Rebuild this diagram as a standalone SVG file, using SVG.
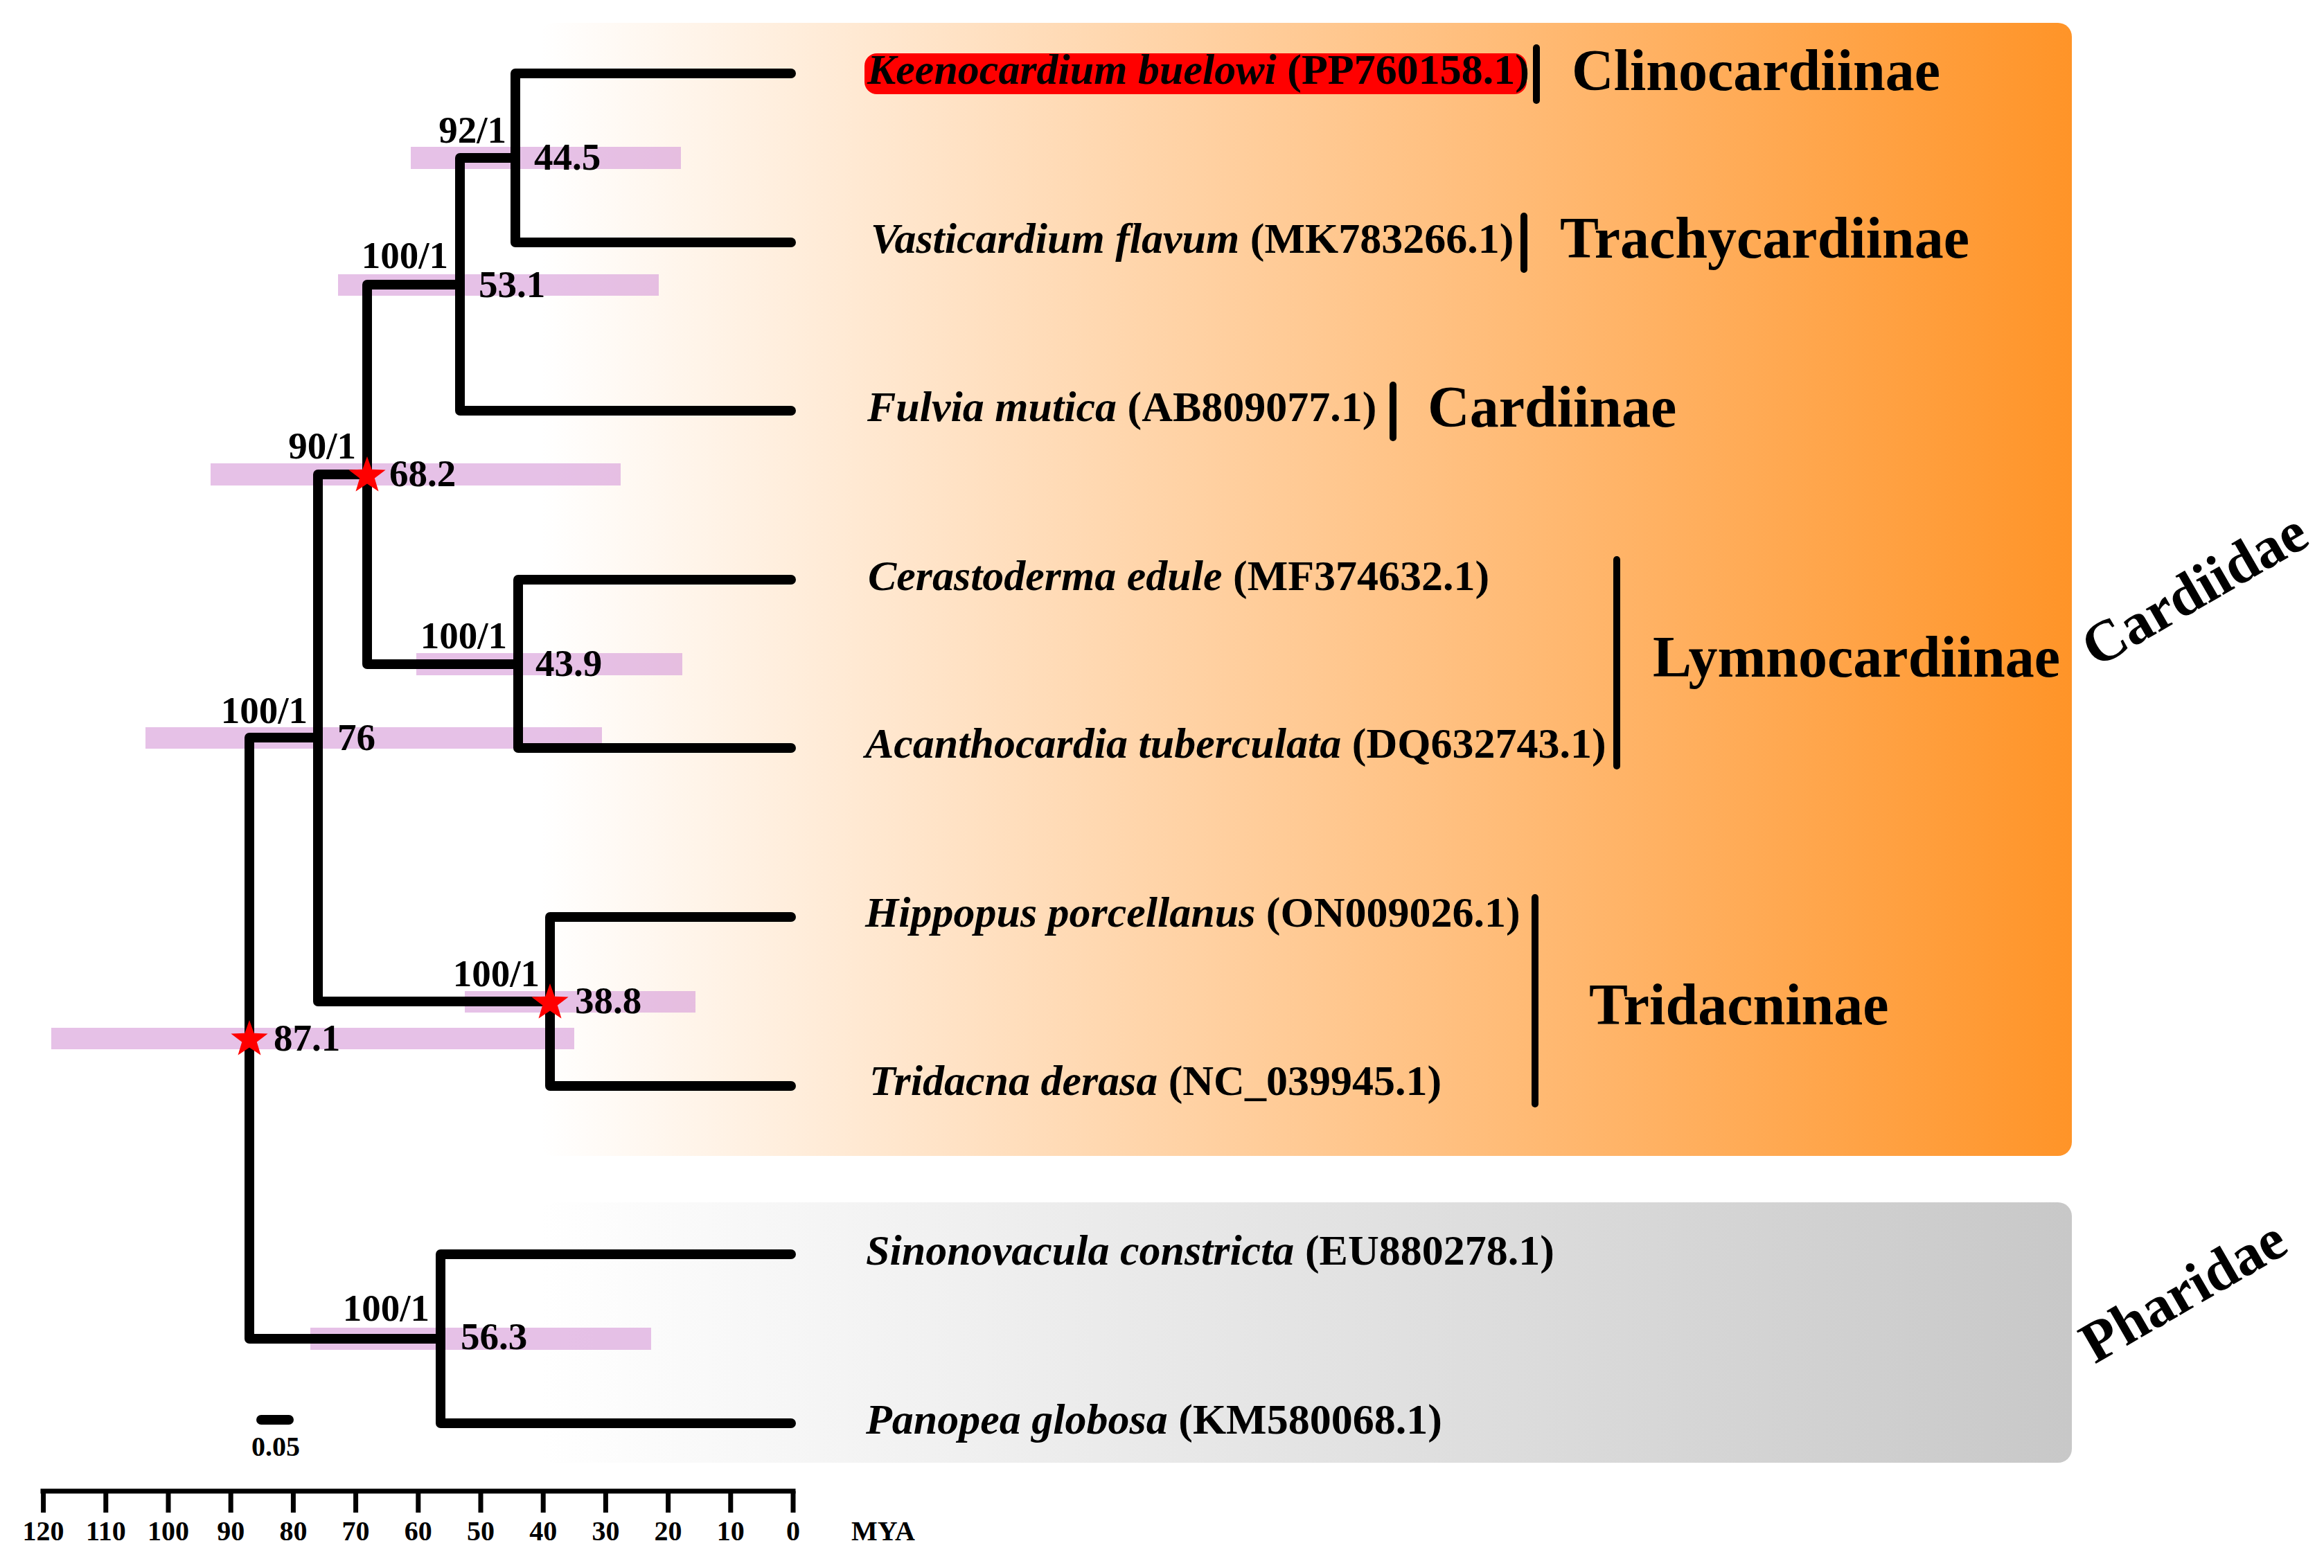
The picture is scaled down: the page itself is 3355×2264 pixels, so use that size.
<svg xmlns="http://www.w3.org/2000/svg" width="3355" height="2264" viewBox="0 0 3355 2264">
<style>
text{font-family:"Liberation Serif","Times New Roman",serif;font-weight:bold;fill:#000}
.br{fill:none;stroke:#000;stroke-width:14;stroke-linecap:round;stroke-linejoin:round}
.bar{fill:#D99FDA;fill-opacity:0.65}
.sup{font-size:55px;text-anchor:end}
.age{font-size:55px}
.tip{font-size:62px}
.sp{font-style:italic}
.sub{font-size:84px}
.fam{font-size:84px}
.tick{stroke:#000;stroke-width:7}
.ax{font-size:40px;text-anchor:middle}
.clb{stroke:#000;stroke-width:10;stroke-linecap:round}
.star{fill:#FF0000}
</style>
<defs>
<linearGradient id="gOr" x1="0" y1="0" x2="1" y2="0">
<stop offset="0" stop-color="#FFFFFF"/>
<stop offset="1" stop-color="#FF9428"/>
</linearGradient>
<linearGradient id="gGr" x1="0" y1="0" x2="1" y2="0">
<stop offset="0" stop-color="#FFFFFF"/>
<stop offset="1" stop-color="#C8C8C8"/>
</linearGradient>
<polygon id="star" points="0,-28 6.7,-9.2 26.6,-8.6 10.8,3.5 16.5,22.6 0,11.4 -16.5,22.6 -10.8,3.5 -26.6,-8.6 -6.7,-9.2"/>
</defs>
<rect width="3355" height="2264" fill="#FFFFFF"/>
<g id="family-boxes">
<rect id="box-cardiidae" x="780" y="33" width="2211" height="1636" rx="20" fill="url(#gOr)"/>
<rect id="box-pharidae" x="780" y="1736" width="2211" height="376" rx="20" fill="url(#gGr)"/>
</g>
<g id="hpd-bars">
<rect class="bar" x="593" y="212" width="390" height="32"/>
<rect class="bar" x="488" y="396" width="463" height="31"/>
<rect class="bar" x="304" y="669" width="592" height="32"/>
<rect class="bar" x="601" y="943" width="384" height="32"/>
<rect class="bar" x="210" y="1050" width="659" height="31"/>
<rect class="bar" x="671" y="1431" width="333" height="31"/>
<rect class="bar" x="74" y="1484" width="755" height="31"/>
<rect class="bar" x="448" y="1917" width="492" height="32"/>
</g>
<rect id="highlight" x="1248" y="77" width="956" height="59" rx="18" fill="#FF0000"/>
<g id="connectors">
<path class="br" d="M1142,106 H744 V350 H1142"/>
<path class="br" d="M744,228 H664 V593 H1142"/>
<path class="br" d="M664,411 H530 V959 H748"/>
<path class="br" d="M1142,837 H748 V1080 H1142"/>
<path class="br" d="M530,685 H459 V1446 H794"/>
<path class="br" d="M1142,1324 H794 V1568 H1142"/>
<path class="br" d="M459,1065 H360 V1933 H636"/>
<path class="br" d="M1142,1811 H636 V2055 H1142"/>
</g>
<g id="node-44.5"><text class="sup" x="731" y="206">92/1</text><text class="age" x="771" y="245">44.5</text></g>
<g id="node-53.1"><text class="sup" x="647" y="387">100/1</text><text class="age" x="691" y="429">53.1</text></g>
<g id="node-68.2"><use href="#star" class="star" x="530" y="687"/><text class="sup" x="514" y="662">90/1</text><text class="age" x="562" y="702">68.2</text></g>
<g id="node-43.9"><text class="sup" x="732" y="936">100/1</text><text class="age" x="773" y="976">43.9</text></g>
<g id="node-76"><text class="sup" x="444" y="1044">100/1</text><text class="age" x="487" y="1083">76</text></g>
<g id="node-38.8"><use href="#star" class="star" x="794" y="1448"/><text class="sup" x="779" y="1424">100/1</text><text class="age" x="830" y="1463">38.8</text></g>
<g id="node-87.1"><use href="#star" class="star" x="360" y="1501"/><text class="age" x="395" y="1517">87.1</text></g>
<g id="node-56.3"><text class="sup" x="620" y="1907">100/1</text><text class="age" x="665" y="1948">56.3</text></g>
<g id="tips">
<text class="tip" x="1252" y="121"><tspan class="sp">Keenocardium buelowi</tspan> (PP760158.1)</text>
<text class="tip" x="1257" y="365"><tspan class="sp">Vasticardium flavum</tspan> (MK783266.1)</text>
<text class="tip" x="1252" y="608"><tspan class="sp">Fulvia mutica</tspan> (AB809077.1)</text>
<text class="tip" x="1253" y="852"><tspan class="sp">Cerastoderma edule</tspan> (MF374632.1)</text>
<text class="tip" x="1249" y="1094"><tspan class="sp">Acanthocardia tuberculata</tspan> (DQ632743.1)</text>
<text class="tip" x="1249" y="1338"><tspan class="sp">Hippopus porcellanus</tspan> (ON009026.1)</text>
<text class="tip" x="1255" y="1581"><tspan class="sp">Tridacna derasa</tspan> (NC_039945.1)</text>
<text class="tip" x="1250" y="1826"><tspan class="sp">Sinonovacula constricta</tspan> (EU880278.1)</text>
<text class="tip" x="1250" y="2070"><tspan class="sp">Panopea globosa</tspan> (KM580068.1)</text>
</g>
<g id="subfamilies">
<line class="clb" x1="2218" y1="69" x2="2218" y2="145"/>
<text class="sub" x="2269" y="130">Clinocardiinae</text>
<line class="clb" x1="2200" y1="312" x2="2200" y2="389"/>
<text class="sub" x="2252" y="372">Trachycardiinae</text>
<line class="clb" x1="2011" y1="556" x2="2011" y2="632"/>
<text class="sub" x="2061" y="616">Cardiinae</text>
<line class="clb" x1="2334" y1="808" x2="2334" y2="1106"/>
<text class="sub" x="2386" y="977">Lymnocardiinae</text>
<line class="clb" x1="2216" y1="1296" x2="2216" y2="1594"/>
<text class="sub" x="2294" y="1479">Tridacninae</text>
</g>
<g id="families">
<text class="fam" transform="translate(3026,965) rotate(-30)">Cardiidae</text>
<text class="fam" transform="translate(3024,1970) rotate(-30)">Pharidae</text>
</g>
<g id="scale-bar">
<line x1="377" y1="2050" x2="417" y2="2050" stroke="#000" stroke-width="14" stroke-linecap="round"/>
<text class="ax" x="398" y="2102">0.05</text>
</g>
<g id="time-axis">
<line x1="62" y1="2153" x2="1145" y2="2153" stroke="#000" stroke-width="7" stroke-linecap="square"/>
<path class="tick" d="M62.6,2153V2184 M152.8,2153V2184 M243,2153V2184 M333.2,2153V2184 M423.4,2153V2184 M513.6,2153V2184 M603.8,2153V2184 M694,2153V2184 M784.2,2153V2184 M874.4,2153V2184 M964.6,2153V2184 M1054.8,2153V2184 M1145,2153V2184"/>
<text class="ax" x="62.6" y="2224">120</text>
<text class="ax" x="152.8" y="2224">110</text>
<text class="ax" x="243" y="2224">100</text>
<text class="ax" x="333.2" y="2224">90</text>
<text class="ax" x="423.4" y="2224">80</text>
<text class="ax" x="513.6" y="2224">70</text>
<text class="ax" x="603.8" y="2224">60</text>
<text class="ax" x="694" y="2224">50</text>
<text class="ax" x="784.2" y="2224">40</text>
<text class="ax" x="874.4" y="2224">30</text>
<text class="ax" x="964.6" y="2224">20</text>
<text class="ax" x="1054.8" y="2224">10</text>
<text class="ax" x="1145" y="2224">0</text>
<text x="1229" y="2224" style="font-size:40px">MYA</text>
</g>
</svg>
